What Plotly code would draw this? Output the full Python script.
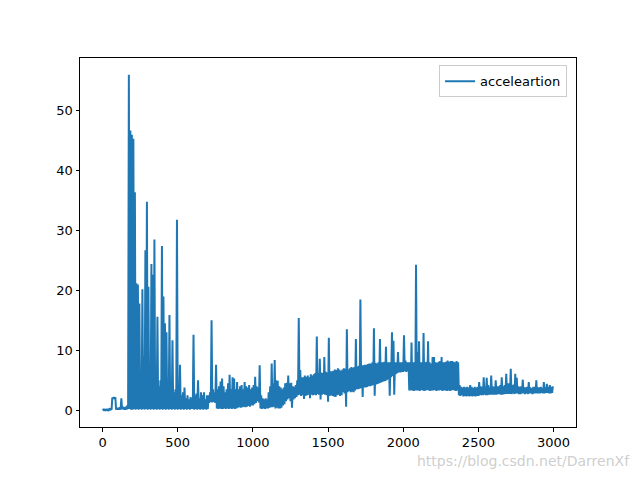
import plotly.graph_objects as go

# Signal read per 10-sample bin: minimum and maximum of the dense trace in each bin
bin_width = 10
bin_low = [
    0.0, 0.0, 0.0, 0.0, 0.0, 0.1, 0.1, 1.9, 1.9, 0.1,
    0.1, 0.1, 0.1, 0.2, 0.1, 0.1, 0.1, 0.2, 0.2, 0.1,
    0.1, 0.2, 0.1, 0.2, 0.1, 0.2, 0.1, 0.2, 0.1, 0.2,
    0.1, 0.2, 0.1, 0.2, 0.1, 0.2, 0.1, 0.2, 0.1, 0.2,
    0.1, 0.2, 0.1, 0.2, 0.1, 0.2, 0.1, 0.2, 0.1, 0.2,
    0.1, 0.2, 0.1, 0.2, 0.1, 0.2, 0.1, 0.2, 0.1, 0.2,
    0.2, 0.1, 0.2, 0.1, 0.2, 0.1, 0.2, 0.1, 0.2, 0.1,
    0.2, 1.2, 1.4, 1.3, 1.4, 1.2, 0.3, 0.2, 0.3, 0.2,
    0.2, 0.3, 0.2, 0.3, 0.2, 0.3, 0.2, 0.3, 0.2, 0.3,
    0.4, 0.5, 0.4, 0.5, 0.6, 0.5, 0.6, 0.7, 0.6, 0.8,
    0.8, 1.0, 1.2, 1.5, 1.3, 0.3, 0.2, 0.3, 0.2, 0.3,
    0.3, 0.4, 0.5, 0.5, 0.6, 0.3, 0.4, 0.3, 0.3, 0.4,
    0.8, 1.0, 1.5, 1.8, 2.0, 1.5, 0.4, 1.8, 2.0, 2.2,
    2.5, 2.6, 2.4, 2.5, 1.9, 2.4, 2.5, 2.6, 2.0, 2.6,
    2.5, 2.6, 2.5, 2.7, 2.6, 1.8, 2.6, 2.7, 2.6, 2.5,
    1.4, 2.4, 2.5, 2.4, 2.3, 2.2, 2.5, 2.6, 2.4, 2.5,
    3.0, 2.8, 0.6, 3.0, 3.2, 3.0, 3.1, 3.0, 3.3, 3.5,
    3.5, 3.6, 3.7, 2.2, 3.8, 3.8, 3.9, 4.0, 4.0, 4.1,
    4.2, 2.4, 4.3, 4.4, 4.5, 4.6, 4.7, 4.8, 4.9, 5.0,
    5.2, 2.4, 5.5, 5.7, 2.6, 6.0, 6.2, 6.3, 6.3, 6.4,
    6.4, 6.5, 6.4, 6.5, 3.3, 3.3, 3.3, 3.2, 3.3, 3.3,
    3.3, 3.2, 3.4, 3.3, 3.2, 3.3, 3.4, 3.3, 3.2, 3.3,
    3.3, 3.4, 3.2, 3.3, 3.3, 3.4, 3.2, 3.3, 3.3, 3.2,
    3.3, 3.2, 3.3, 3.4, 3.3, 3.2, 3.3, 2.5, 2.4, 2.5,
    2.3, 2.4, 2.3, 2.4, 2.3, 2.4, 2.3, 2.4, 2.3, 2.4,
    2.4, 2.5, 2.5, 2.5, 2.6, 2.5, 2.5, 2.6, 2.6, 2.6,
    2.6, 2.6, 2.6, 2.7, 2.7, 2.6, 2.6, 2.7, 2.7, 2.7,
    2.7, 2.7, 2.7, 2.8, 2.7, 2.8, 2.8, 2.7, 2.7, 2.8,
    2.8, 2.7, 2.8, 2.7, 2.8, 2.8, 2.7, 2.8, 2.8, 2.8,
    2.8, 2.8, 2.9, 2.8, 2.8, 2.9, 2.9, 2.8, 2.8, 2.9,
]
bin_high = [
    0.1, 0.1, 0.1, 0.1, 0.2, 0.2, 2.1, 2.2, 2.2, 0.4,
    0.4, 0.5, 2.0, 0.6, 0.5, 0.6, 0.8, 56.0, 46.7, 46.0,
    45.3, 36.4, 21.2, 21.0, 17.8, 6.0, 20.2, 9.0, 26.7, 34.8,
    20.6, 5.0, 24.4, 22.6, 28.5, 6.0, 15.6, 4.0, 5.0, 27.4,
    19.0, 14.5, 13.0, 4.5, 15.9, 3.5, 11.7, 3.0, 3.5, 31.8,
    3.0, 7.6, 2.5, 3.0, 3.8, 2.0, 2.5, 1.8, 2.2, 2.0,
    12.6, 2.5, 2.8, 5.0, 2.0, 3.0, 2.5, 3.0, 1.8, 2.5,
    2.5, 3.0, 15.0, 3.5, 3.0, 7.6, 3.5, 4.0, 4.8, 5.3,
    4.0, 3.0, 3.5, 4.5, 5.9, 3.5, 5.5, 5.3, 3.5, 4.7,
    3.5, 4.0, 4.2, 3.5, 4.7, 4.0, 3.8, 4.2, 3.5, 3.8,
    4.2, 5.6, 4.0, 3.8, 7.5, 2.5, 2.0, 1.8, 2.0, 1.8,
    3.0, 4.0, 7.8, 4.5, 8.4, 5.0, 4.9, 4.0, 3.8, 3.5,
    3.8, 4.5, 4.6, 5.8, 4.5, 4.6, 4.0, 3.9, 4.2, 5.0,
    15.4, 6.7, 5.5, 5.5, 5.8, 5.6, 5.8, 5.5, 6.0, 5.8,
    6.0, 6.2, 12.3, 6.2, 8.6, 6.3, 6.2, 8.9, 6.4, 6.3,
    12.1, 6.5, 6.5, 6.6, 6.8, 6.7, 7.0, 6.8, 6.6, 6.8,
    7.0, 6.9, 13.5, 6.8, 7.0, 7.2, 7.1, 7.2, 11.9, 7.3,
    7.4, 18.5, 7.5, 7.5, 7.6, 7.6, 7.7, 7.8, 7.8, 8.0,
    13.7, 7.9, 7.8, 8.0, 11.9, 8.0, 8.0, 8.1, 10.6, 8.0,
    8.0, 8.0, 13.0, 11.6, 8.0, 8.0, 9.7, 8.0, 8.0, 8.0,
    12.5, 8.3, 8.0, 8.0, 8.0, 11.3, 8.0, 8.0, 24.3, 9.7,
    11.5, 8.0, 8.0, 12.9, 8.0, 8.1, 11.5, 8.0, 7.8, 8.9,
    8.9, 8.0, 7.9, 8.1, 8.2, 8.9, 8.0, 8.0, 8.1, 8.3,
    8.1, 8.2, 8.2, 8.1, 8.0, 8.2, 8.0, 4.2, 3.9, 3.8,
    3.9, 3.8, 3.9, 3.8, 4.2, 3.9, 3.7, 3.9, 3.8, 3.9,
    4.7, 4.0, 3.9, 5.5, 4.0, 5.4, 4.2, 3.8, 5.8, 4.0,
    3.9, 5.0, 4.0, 4.0, 4.2, 5.5, 4.0, 4.2, 6.1, 4.5,
    4.5, 6.9, 4.2, 4.3, 6.1, 5.4, 4.0, 3.9, 4.0, 5.1,
    3.8, 3.8, 3.9, 4.7, 3.8, 3.7, 3.9, 3.9, 5.0, 3.8,
    3.8, 3.9, 3.7, 4.7, 3.8, 4.4, 3.9, 4.2, 3.9, 4.0,
]

# trace alternates between the low and high of each bin
x_vals, y_vals = [], []
for i, (lo, hi) in enumerate(zip(bin_low, bin_high)):
    x_vals += [i * bin_width, i * bin_width + bin_width / 2]
    y_vals += [lo, hi]

x_ticks = [0, 500, 1000, 1500, 2000, 2500, 3000]
y_ticks = [0, 10, 20, 30, 40, 50]

fig = go.Figure()
fig.add_trace(go.Scatter(
    x=x_vals, y=y_vals, mode="lines", name="acceleartion",
    line=dict(color="#1f77b4", width=2),
))

axis_common = dict(
    showline=True, linecolor="black", linewidth=1, mirror=True,
    ticks="outside", ticklen=3.5, tickwidth=1, tickcolor="black",
    showgrid=False, zeroline=False,
    tickfont=dict(family="DejaVu Sans", size=13, color="black"),
)

fig.update_layout(
    width=640, height=480,
    margin=dict(l=80, r=64, t=58, b=53),
    paper_bgcolor="white", plot_bgcolor="white",
    xaxis=dict(range=[-150, 3149], tickvals=x_ticks, **axis_common),
    yaxis=dict(range=[-2.8, 58.8], tickvals=y_ticks, **axis_common),
    showlegend=True,
    legend=dict(
        x=0.982, y=0.98, xanchor="right", yanchor="top",
        bordercolor="#cccccc", borderwidth=1, bgcolor="rgba(255,255,255,0.8)",
        font=dict(family="DejaVu Sans", size=13, color="black"),
        itemwidth=30,
    ),
    annotations=[dict(
        text="https://blog.csdn.net/DarrenXf", xref="paper", yref="paper",
        x=1.113, y=-0.0915, xanchor="right", yanchor="middle", showarrow=False,
        font=dict(family="DejaVu Sans", size=14, color="rgba(200,200,200,0.9)"),
    )],
)

fig.write_html("out.html")
